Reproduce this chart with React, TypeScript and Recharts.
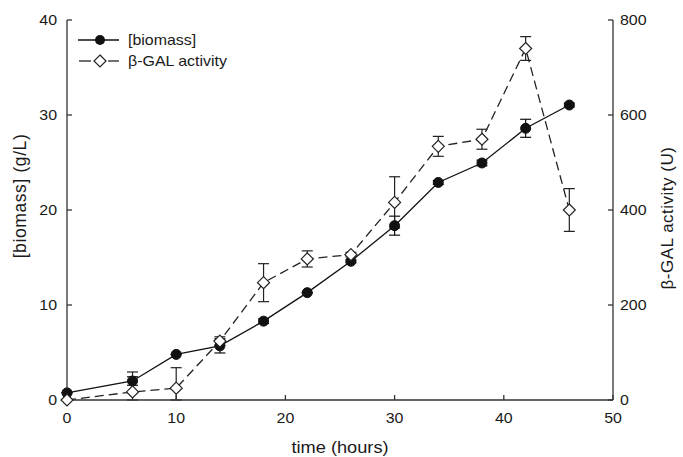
import React from 'react';
import { ComposedChart, Line, XAxis, YAxis, ErrorBar, Legend } from 'recharts';

const hours = [0, 6, 10, 14, 18, 22, 26, 30, 34, 38, 42, 46];
const biomass = [0.75, 2.0, 4.8, 5.7, 8.3, 11.3, 14.6, 18.35, 22.9, 24.95, 28.6, 31.05];
const biomassErr = [0, 0.45, 0, 0.75, 0.25, 0, 0.15, 1.0, 0.2, 0.3, 0.95, 0.2];
const betaGal = [0, 17, 25, 124, 247, 297, 306, 416, 534, 549, 740, 400];
const betaGalErrLow = [0, 17, 25, 9, 40, 17, 5, 54, 21, 21, 25, 45];
const betaGalErrHigh = [0, 42, 43, 9, 40, 17, 5, 54, 21, 21, 25, 45];
const xTicks = [0, 10, 20, 30, 40, 50];
const leftTicks = [0, 10, 20, 30, 40];
const rightTicks = [0, 200, 400, 600, 800];
const seriesNames = ['[biomass]', '\u03b2-GAL activity'];
const xTitle = 'time (hours)';
const leftTitle = '[biomass] (g/L)';
const rightTitle = '\u03b2-GAL activity (U)';

const data = hours.map((t, i) => ({
  t,
  biomass: biomass[i],
  biomassErr: [biomassErr[i], biomassErr[i]],
  beta: betaGal[i],
  betaErr: [betaGalErrLow[i], betaGalErrHigh[i]],
}));

const FONT = '"Liberation Sans", Arial, Helvetica, sans-serif';
const INK = '#1a1a1a';
const AXIS = '#333';
const SX = 1.14;

function SText(props: any) {
  const { x, y, anchor = 'start', size = 14, dy = 0, children } = props;
  return (
    <g transform={`translate(${x},${y}) scale(${SX},1)`}>
      <text x={0} y={0} dy={dy} textAnchor={anchor} fontSize={size} fontFamily={FONT} fill={INK}>
        {children}
      </text>
    </g>
  );
}

function VText(props: any) {
  const { x, y, size = 14, spacing, children } = props;
  return (
    <text
      x={x}
      y={y}
      dy="0.36em"
      transform={`rotate(-90, ${x}, ${y})`}
      textAnchor="middle"
      fontSize={size}
      fontFamily={FONT}
      fill={INK}
      style={spacing ? { letterSpacing: `${spacing}px` } : undefined}
    >
      {children}
    </text>
  );
}

const BottomTick = (p: any) => (
  <SText x={p.x} y={p.y} anchor="middle" dy="0.72em">{p.payload.value}</SText>
);
const LeftTick = (p: any) => (
  <SText x={p.x} y={p.y} anchor="end" dy="0.36em">{p.payload.value}</SText>
);
const RightTick = (p: any) => (
  <SText x={p.x} y={p.y} anchor="start" dy="0.36em">{p.payload.value}</SText>
);

const circleDot = (p: any) => (
  <circle key={`c-${p.index}`} cx={p.cx} cy={p.cy} r={5} fill="#111" stroke="#111" strokeWidth={1} />
);
const diamondDot = (p: any) => (
  <path
    key={`d-${p.index}`}
    d={`M${p.cx},${p.cy - 6} L${p.cx + 6},${p.cy} L${p.cx},${p.cy + 6} L${p.cx - 6},${p.cy} Z`}
    fill="#fff"
    stroke="#222"
    strokeWidth={1.2}
  />
);

const LegendBox = () => (
  <svg width={220} height={46} style={{ display: 'block', overflow: 'visible' }}>
    <line x1={8} y1={13} x2={49} y2={13} stroke="#111" strokeWidth={1.3} />
    <circle cx={30} cy={13} r={5} fill="#111" />
    <line x1={9} y1={34} x2={21} y2={34} stroke="#222" strokeWidth={1.3} />
    <line x1={38} y1={34} x2={49} y2={34} stroke="#222" strokeWidth={1.3} />
    <path d="M30,28 L36,34 L30,40 L24,34 Z" fill="#fff" stroke="#222" strokeWidth={1.2} />
    <SText x={58} y={13} dy="0.36em">{seriesNames[0]}</SText>
    <SText x={58} y={34} dy="0.36em">{seriesNames[1]}</SText>
  </svg>
);

const Titles = () => (
  <svg
    width={683}
    height={457}
    style={{ position: 'absolute', left: 0, top: 0, pointerEvents: 'none', overflow: 'visible' }}
  >
    <SText x={340} y={453} anchor="middle" size={16}>{xTitle}</SText>
    <VText x={20} y={196} size={17.5} spacing={0.6}>{leftTitle}</VText>
    <VText x={667} y={218} size={17} spacing={0.5}>{rightTitle}</VText>
  </svg>
);

export default function App() {
  return (
    <div style={{ position: 'absolute', left: 0, top: 0, width: 683, height: 457, background: '#fff' }}>
      <ComposedChart width={683} height={457} data={data} margin={{ top: 20, right: 10, bottom: 0, left: 0 }}>
        <XAxis
          xAxisId="bottom"
          dataKey="t"
          type="number"
          domain={[0, 50]}
          ticks={xTicks}
          interval={0}
          height={57}
          stroke={AXIS}
          strokeWidth={1.3}
          tickSize={-5}
          tickMargin={18}
          tick={BottomTick}
        />
        <XAxis
          xAxisId="top"
          orientation="top"
          dataKey="t"
          type="number"
          domain={[0, 50]}
          height={0}
          tick={false}
          tickLine={false}
          stroke={AXIS}
          strokeWidth={1.3}
        />
        <YAxis
          yAxisId="left"
          domain={[0, 40]}
          ticks={leftTicks}
          interval={0}
          width={67}
          stroke={AXIS}
          strokeWidth={1.3}
          tickSize={-5}
          tickMargin={15}
          tick={LeftTick}
        />
        <YAxis
          yAxisId="right"
          orientation="right"
          domain={[0, 800]}
          ticks={rightTicks}
          interval={0}
          width={60}
          stroke={AXIS}
          strokeWidth={1.3}
          tickSize={-5}
          tickMargin={12}
          tick={RightTick}
        />
        <Legend
          layout="vertical"
          align="center"
          verticalAlign="middle"
          wrapperStyle={{ left: 70, top: 27, width: 220, height: 46 }}
          content={() => <LegendBox />}
        />
        <Line
          xAxisId="bottom"
          yAxisId="left"
          type="linear"
          dataKey="biomass"
          name={seriesNames[0]}
          stroke="#111"
          strokeWidth={1.3}
          dot={circleDot}
          activeDot={false}
          isAnimationActive={false}
        >
          <ErrorBar dataKey="biomassErr" width={5.5} stroke="#111" strokeWidth={1.2} direction="y" />
        </Line>
        <Line
          xAxisId="bottom"
          yAxisId="right"
          type="linear"
          dataKey="beta"
          name={seriesNames[1]}
          stroke="#222"
          strokeWidth={1.3}
          strokeDasharray="9 5"
          dot={diamondDot}
          activeDot={false}
          isAnimationActive={false}
        >
          <ErrorBar dataKey="betaErr" width={5.5} stroke="#222" strokeWidth={1.2} direction="y" />
        </Line>
      </ComposedChart>
      <Titles />
    </div>
  );
}
